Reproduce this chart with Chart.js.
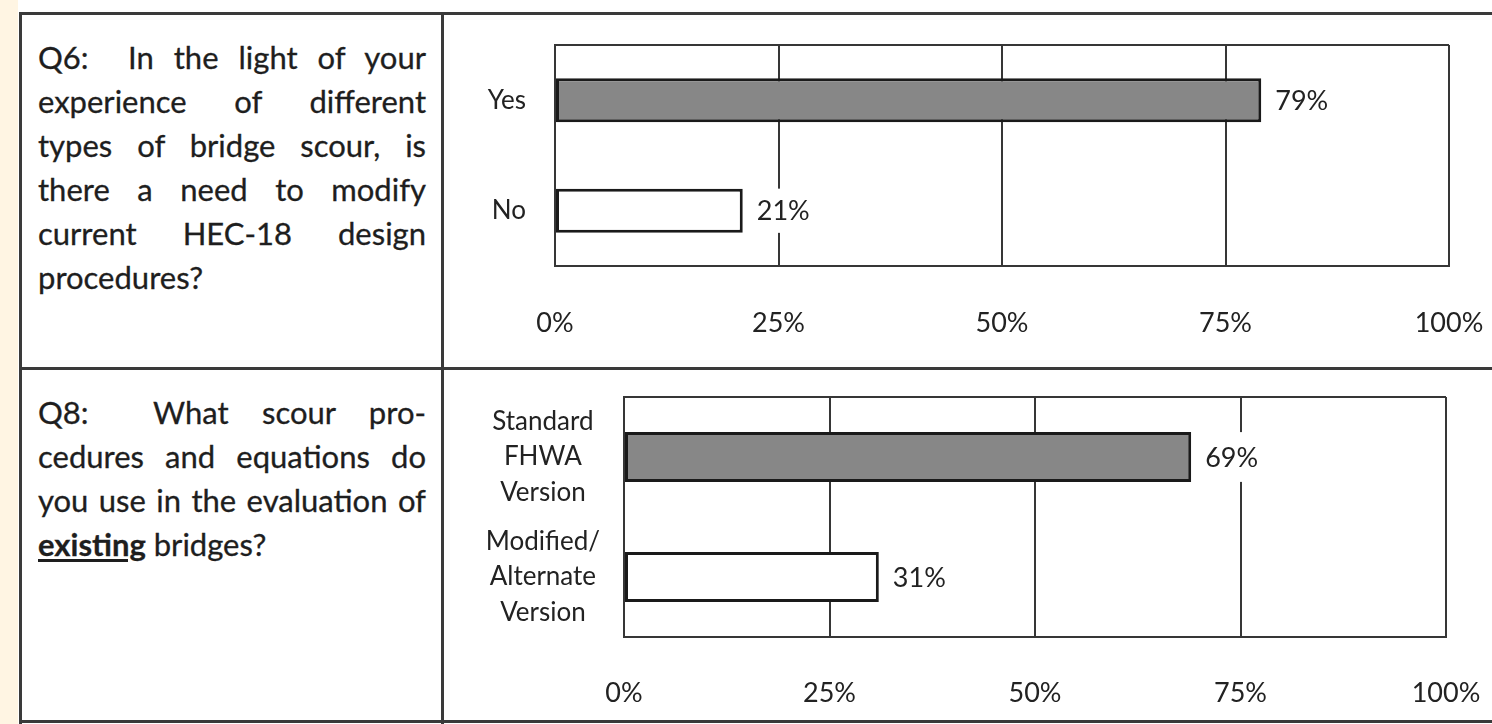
<!DOCTYPE html>
<html>
<head>
<meta charset="utf-8">
<script src="https://cdn.jsdelivr.net/npm/chart.js@4.4.1/dist/chart.umd.min.js"></script>
<style>
  html, body { margin: 0; padding: 0; background: #fff; }
  body { width: 1492px; height: 724px; position: relative; overflow: hidden; font-family: Lato, "Open Sans", sans-serif; color: #1e1e1e; }
  .strip { position: absolute; left: 0; top: 0; width: 18px; height: 724px; background: #fff5e3; }
  .line { position: absolute; background: #3a3a3a; }
  .q { position: absolute; left: 38px; width: 388px; font-size: 31px; line-height: 44px; -webkit-text-stroke: 0.3px #1e1e1e; }
  .q div { text-align: justify; text-align-last: justify; white-space: nowrap; }
  .q div.last { text-align-last: left; }
  .q b { font-weight: 700; text-decoration: underline; text-underline-offset: 3px; }
  .q .lead { display: inline-block; }
  .cv { position: absolute; left: 444px; width: 1048px; }
</style>
</head>
<body>
<div class="strip"></div>
<div class="line" style="left:19px;top:12px;width:1473px;height:3px"></div>
<div class="line" style="left:19px;top:12px;width:3px;height:712px"></div>
<div class="line" style="left:19px;top:367px;width:1473px;height:3px"></div>
<div class="line" style="left:441px;top:12px;width:3px;height:712px"></div>
<div class="line" style="left:19px;top:720px;width:1473px;height:3px"></div>

<div class="q" id="q6" style="top:35px"></div>
<div class="q" id="q8" style="top:390px"></div>

<div class="cv" style="top:15px;height:351px"><canvas id="c1" width="1048" height="351"></canvas></div>
<div class="cv" style="top:370px;height:350px"><canvas id="c2" width="1048" height="350"></canvas></div>

<script>
// ---- data ----
const q6Lines = ["<span class=\"lead\" style=\"width:90px\">Q6:</span>In the light of your", "experience of different", "types of bridge scour, is", "there a need to modify", "current HEC-18 design", "procedures?"];
const q8Lines = ["<span class=\"lead\" style=\"width:115px\">Q8:</span>What scour pro-", "cedures and equations do", "you use in the evaluation of", "<b>existing</b> bridges?"];

const q6Categories = ["Yes", "No"];
const q6Values = [79, 21];

const q8Categories = [["Standard", "FHWA", "Version"], ["Modified/", "Alternate", "Version"]];
const q8Values = [69, 31];

const tickValues = [0, 25, 50, 75, 100];
const tickLabels = ["0%", "25%", "50%", "75%", "100%"];

// ---- question text ----
function fillQ(id, lines) {
  const el = document.getElementById(id);
  el.innerHTML = lines.map((l, i) => '<div' + (i === lines.length - 1 ? ' class="last"' : '') + '>' + l + '</div>').join('');
}
fillQ('q6', q6Lines);
fillQ('q8', q8Lines);

// ---- charts ----
const FONT = 'Lato, "Open Sans", sans-serif';
const INK = '#222222';
const GRID = '#363636';

const valueLabels = {
  id: 'valueLabels',
  afterDatasetsDraw(chart) {
    const ctx = chart.ctx;
    const meta = chart.getDatasetMeta(0);
    const data = chart.data.datasets[0].data;
    ctx.save();
    ctx.font = '27px ' + FONT;
    ctx.textBaseline = 'middle';
    ctx.textAlign = 'left';
    meta.data.forEach((bar, i) => {
      const txt = data[i] + '%';
      const w = ctx.measureText(txt).width;
      const x = bar.x + 14;
      const h = bar.height;
      ctx.fillStyle = '#ffffff';
      ctx.fillRect(x - 4, bar.y - h / 2, w + 8, h);
      ctx.fillStyle = INK;
      ctx.fillText(txt, x, bar.y + 1);
    });
    ctx.restore();
  }
};

function noPad(scale) {
  scale.paddingLeft = 0; scale.paddingRight = 0; scale.paddingTop = 0; scale.paddingBottom = 0;
}

function makeChart(id, cats, vals, cfg) {
  return new Chart(document.getElementById(id), {
    type: 'bar',
    data: {
      labels: cats,
      datasets: [{
        data: vals,
        backgroundColor: ['#878787', '#ffffff'],
        borderColor: '#1a1a1a',
        borderWidth: 3,
        borderSkipped: false,
        categoryPercentage: 1,
        barPercentage: cfg.barPct
      }]
    },
    options: {
      indexAxis: 'y',
      responsive: false,
      animation: false,
      events: [],
      layout: { padding: { top: cfg.padTop, right: cfg.padRight, left: 0, bottom: 0 } },
      plugins: { legend: { display: false }, tooltip: { enabled: false } },
      scales: {
        x: {
          min: 0, max: 100,
          afterBuildTicks(scale) { scale.ticks = tickValues.map(v => ({ value: v })); },
          afterFit(scale) { scale.height = cfg.xHeight; noPad(scale); },
          ticks: {
            padding: cfg.xPad,
            color: INK,
            autoSkip: false,
            font: { family: FONT, size: 27 },
            maxRotation: 0,
            callback(v) { return tickLabels[tickValues.indexOf(v)]; }
          },
          grid: { color: GRID, lineWidth: 2, drawTicks: false },
          border: { display: true, color: GRID, width: 2 }
        },
        y: {
          afterFit(scale) { scale.width = cfg.yWidth; noPad(scale); },
          ticks: {
            padding: cfg.yPad,
            crossAlign: cfg.cross,
            autoSkip: false,
            color: INK,
            font: { family: FONT, size: 26, lineHeight: 1.38 }
          },
          grid: {
            color: c => (c.index === 1 ? 'rgba(0,0,0,0)' : GRID),
            lineWidth: 2,
            drawTicks: false
          },
          border: { display: true, color: GRID, width: 2 }
        }
      }
    },
    plugins: [valueLabels]
  });
}

document.fonts.load('26px Lato').then(() => {
  makeChart('c1', q6Categories, q6Values, {
    barPct: 0.4, padTop: 30, padRight: 43, xHeight: 100, xPad: 41, yWidth: 111, yPad: 29, cross: 'near'
  });
  makeChart('c2', q8Categories, q8Values, {
    barPct: 0.415, padTop: 27, padRight: 46, xHeight: 83, xPad: 40, yWidth: 180, yPad: 24, cross: 'center'
  });
});
</script>
</body>
</html>
